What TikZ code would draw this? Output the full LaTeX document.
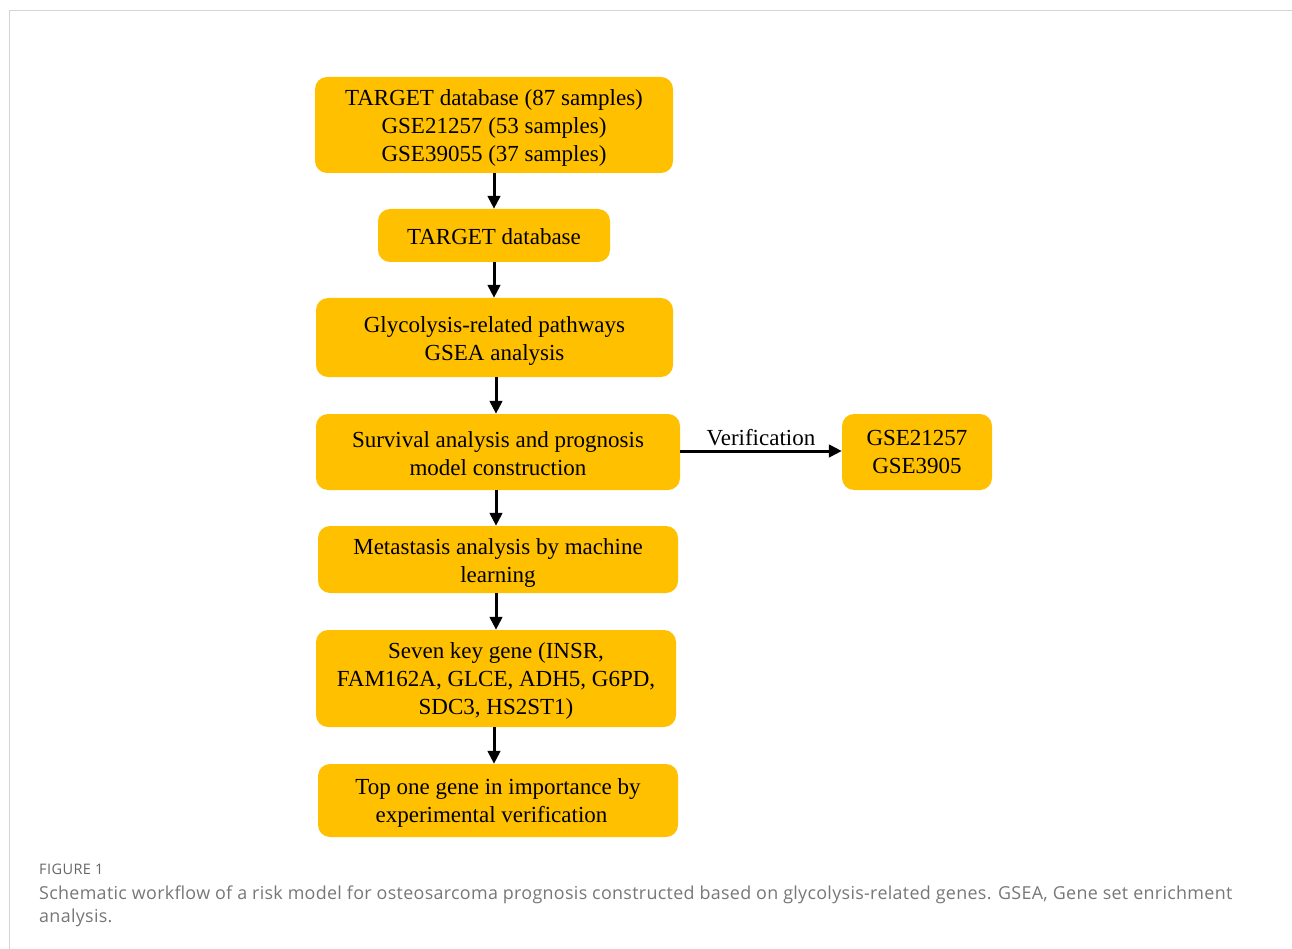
\documentclass[tikz,border=0pt]{standalone}
\usepackage{fontspec}
\setmainfont{Liberation Serif}
\newfontfamily\capfont[LetterSpace=1.7]{Open Sans}
\newfontfamily\figfont[LetterSpace=3]{Open Sans}
\usetikzlibrary{arrows.meta}
\definecolor{boxorange}{HTML}{FFC000}
\definecolor{framegray}{HTML}{D4D4D4}
\definecolor{capgray}{HTML}{777777}
\definecolor{figgray}{HTML}{666666}
\tikzset{
  stepbox/.style={fill=boxorange, draw=none, rounded corners=12pt, inner sep=0pt},
  steptext/.style={align=center, inner sep=0pt, font=\fontsize{23}{28}\selectfont},
  flow/.style={-{Triangle[length=13pt,width=12.5pt]}, line width=3pt, black},
}
\begin{document}
\begin{tikzpicture}[x=1pt,y=-1pt]
\useasboundingbox (0,0) rectangle (1292,949);
\draw[framegray, line width=1.5pt] (9.5,949) -- (9.5,10.5) -- (1292,10.5);
% boxes
\node[stepbox, minimum width=358pt, minimum height=96pt] (b1) at (494,125) {};
\node[stepbox, minimum width=232pt, minimum height=53pt] (b2) at (494,235.5) {};
\node[stepbox, minimum width=357pt, minimum height=79pt] (b3) at (494.5,337.5) {};
\node[stepbox, minimum width=364pt, minimum height=76pt] (b4) at (498,452) {};
\node[stepbox, minimum width=360pt, minimum height=67pt] (b5) at (498,559.5) {};
\node[stepbox, minimum width=360pt, minimum height=97pt] (b6) at (496,678.5) {};
\node[stepbox, minimum width=360pt, minimum height=73pt] (b7) at (498,800.5) {};
\node[stepbox, minimum width=150pt, minimum height=76pt] (b8) at (917,452) {};
% texts
\node[steptext] (t1) at ([yshift=-3pt]b1.center)
  {TARGET database (87 samples)\\GSE21257 (53 samples)\\GSE39055 (37 samples)};
\node[steptext] (t2) at ([yshift=-1pt]b2.center) {TARGET database};
\node[steptext] (t3) at ([yshift=-3.5pt]b3.center) {Glycolysis-related pathways\\GSEA analysis};
\node[steptext] (t4) at ([yshift=-1.5pt]b4.center) {Survival analysis and prognosis\\model construction};
\node[steptext] (t5) at ([yshift=-3pt]b5.center) {Metastasis analysis by machine\\learning};
\node[steptext] (t6) at ([yshift=-2.5pt]b6.center)
  {Seven key gene (INSR,\\FAM162A, GLCE, ADH5, G6PD,\\SDC3, HS2ST1)};
\node[steptext] (t7) at ([yshift=-2pt]b7.center) {Top one gene in importance by\\experimental verification\hspace*{13pt}};
\node[steptext] (t8) at (b8.center) {GSE21257\\GSE3905};
% arrows
\draw[flow] (b1.south -| 494,0) -- (b2.north -| 494,0);
\draw[flow] (b2.south -| 494,0) -- (b3.north -| 494,0);
\draw[flow] (b3.south -| 496,0) -- (b4.north -| 496,0);
\draw[flow] (b4.south -| 496,0) -- (b5.north -| 496,0);
\draw[flow] (b5.south -| 496,0) -- (b6.north -| 496,0);
\draw[flow] (b6.south -| 494,0) -- (b7.north -| 494,0);
\draw[flow] (b4.east |- 0,451) -- node[above, font=\fontsize{23}{28}\selectfont, inner sep=3pt, yshift=1pt] {Verification} (b8.west |- 0,451);
% caption
\node[anchor=base west, inner sep=0pt, text=figgray, font=\figfont\fontsize{14.5}{16}\selectfont] (figlab) at (39,874) {FIGURE 1};
\node[anchor=base west, inner sep=0pt, text=capgray, font=\capfont\fontsize{17.9}{23}\selectfont] (cap1) at (39,899) {Schematic workflow of a risk model for osteosarcoma prognosis constructed based on glycolysis-related genes. GSEA, Gene set enrichment};
\node[anchor=base west, inner sep=0pt, text=capgray, font=\capfont\fontsize{17.9}{23}\selectfont] (cap2) at (39,922) {analysis.};
\end{tikzpicture}
\end{document}
